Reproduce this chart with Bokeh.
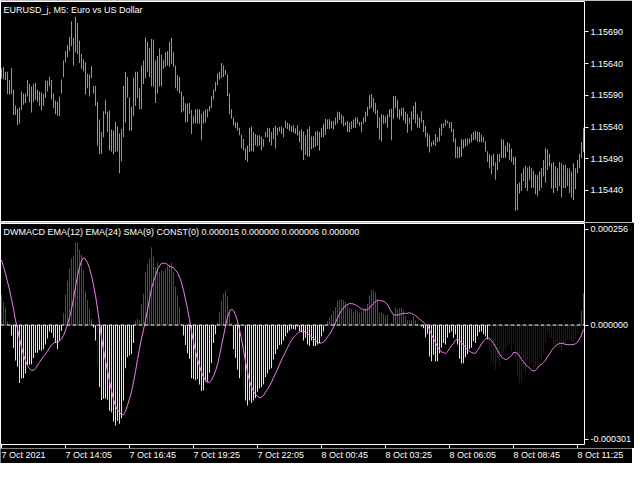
from bokeh.plotting import figure
from bokeh.models import ColumnDataSource, Range1d, FixedTicker, PrintfTickFormatter, Span, Label
from bokeh.layouts import column
from bokeh.embed import file_html
from bokeh.resources import INLINE
from bokeh.core.properties import value

FONT = "Liberation Sans"
FS = "9px"

# ---------------- data ----------------
time_labels = ["7 Oct 2021", "7 Oct 14:05", "7 Oct 16:45", "7 Oct 19:25", "7 Oct 22:05",
               "8 Oct 00:45", "8 Oct 03:25", "8 Oct 06:05", "8 Oct 08:45", "8 Oct 11:25"]
label_bars = [0, 32, 64, 96, 128, 160, 192, 224, 256, 288]
price_ticks = [1.15440, 1.15490, 1.15540, 1.15590, 1.15640, 1.15690]

# EURUSD M5 bar highs / lows, last four digits (price = 1.1 + pts / 100000)
high_pts = [
    5633, 5635, 5627, 5627, 5614, 5633, 5599, 5574, 5569, 5571,
    5596, 5593, 5593, 5614, 5608, 5604, 5608, 5610, 5599, 5596,
    5595, 5592, 5613, 5613, 5619, 5614, 5593, 5582, 5580, 5588,
    5615, 5645, 5660, 5669, 5682, 5707, 5681, 5714, 5704, 5676,
    5655, 5647, 5642, 5624, 5623, 5636, 5605, 5605, 5580, 5552,
    5532, 5565, 5583, 5564, 5566, 5536, 5534, 5548, 5541, 5530,
    5537, 5605, 5627, 5619, 5587, 5572, 5618, 5627, 5627, 5601,
    5637, 5645, 5681, 5675, 5665, 5679, 5678, 5645, 5652, 5664,
    5654, 5646, 5658, 5660, 5675, 5681, 5658, 5637, 5622, 5619,
    5596, 5588, 5577, 5577, 5578, 5567, 5557, 5568, 5568, 5568,
    5561, 5565, 5568, 5568, 5573, 5588, 5599, 5611, 5625, 5627,
    5641, 5637, 5630, 5623, 5593, 5568, 5555, 5548, 5547, 5539,
    5528, 5521, 5506, 5511, 5539, 5541, 5532, 5529, 5527, 5527,
    5525, 5521, 5532, 5539, 5538, 5532, 5539, 5542, 5539, 5540,
    5541, 5538, 5550, 5547, 5545, 5542, 5543, 5538, 5543, 5534,
    5536, 5533, 5527, 5537, 5541, 5525, 5525, 5533, 5534, 5532,
    5539, 5545, 5553, 5552, 5553, 5550, 5550, 5555, 5564, 5564,
    5560, 5557, 5548, 5550, 5547, 5549, 5552, 5555, 5555, 5548,
    5548, 5555, 5564, 5572, 5590, 5592, 5586, 5578, 5567, 5555,
    5560, 5559, 5557, 5560, 5568, 5569, 5589, 5589, 5583, 5568,
    5570, 5571, 5564, 5561, 5555, 5565, 5573, 5580, 5560, 5555,
    5565, 5551, 5542, 5531, 5527, 5516, 5519, 5529, 5524, 5539,
    5545, 5546, 5552, 5550, 5548, 5548, 5537, 5522, 5509, 5509,
    5521, 5520, 5522, 5522, 5522, 5529, 5532, 5534, 5533, 5532,
    5528, 5524, 5517, 5502, 5497, 5495, 5498, 5484, 5497, 5498,
    5521, 5520, 5511, 5516, 5514, 5506, 5493, 5493, 5450, 5453,
    5467, 5475, 5479, 5476, 5478, 5475, 5471, 5465, 5464, 5470,
    5475, 5488, 5507, 5505, 5498, 5483, 5485, 5478, 5475, 5485,
    5483, 5480, 5481, 5475, 5475, 5470, 5483, 5475, 5488, 5498,
    5516, 5539,
]
low_pts = [
    5616, 5615, 5614, 5592, 5591, 5592, 5559, 5559, 5543, 5545,
    5567, 5575, 5578, 5588, 5579, 5563, 5579, 5583, 5580, 5573,
    5566, 5573, 5586, 5596, 5604, 5584, 5570, 5560, 5558, 5557,
    5593, 5619, 5642, 5650, 5660, 5668, 5637, 5658, 5655, 5641,
    5632, 5628, 5591, 5601, 5588, 5617, 5593, 5573, 5511, 5497,
    5498, 5524, 5560, 5532, 5503, 5501, 5497, 5501, 5502, 5467,
    5486, 5524, 5547, 5586, 5534, 5534, 5557, 5573, 5586, 5568,
    5568, 5608, 5617, 5627, 5619, 5604, 5604, 5578, 5593, 5604,
    5604, 5632, 5635, 5637, 5635, 5639, 5635, 5601, 5597, 5593,
    5563, 5565, 5547, 5548, 5561, 5529, 5545, 5546, 5545, 5545,
    5519, 5545, 5547, 5555, 5565, 5570, 5584, 5596, 5606, 5615,
    5617, 5619, 5622, 5589, 5560, 5553, 5542, 5538, 5534, 5527,
    5506, 5503, 5488, 5485, 5501, 5502, 5501, 5511, 5509, 5511,
    5503, 5509, 5524, 5524, 5516, 5511, 5521, 5506, 5527, 5533,
    5529, 5524, 5539, 5537, 5534, 5532, 5531, 5529, 5527, 5516,
    5503, 5488, 5496, 5493, 5493, 5505, 5507, 5509, 5511, 5503,
    5524, 5524, 5528, 5537, 5537, 5538, 5536, 5543, 5546, 5551,
    5545, 5541, 5542, 5532, 5532, 5537, 5539, 5539, 5545, 5542,
    5532, 5545, 5548, 5557, 5568, 5570, 5564, 5560, 5538, 5520,
    5517, 5545, 5546, 5539, 5556, 5519, 5553, 5570, 5555, 5552,
    5557, 5550, 5545, 5531, 5545, 5534, 5552, 5546, 5539, 5538,
    5547, 5532, 5524, 5509, 5500, 5509, 5512, 5510, 5516, 5517,
    5527, 5539, 5542, 5546, 5538, 5532, 5516, 5491, 5491, 5491,
    5493, 5506, 5509, 5511, 5514, 5516, 5519, 5520, 5517, 5516,
    5516, 5516, 5501, 5485, 5475, 5465, 5478, 5457, 5472, 5485,
    5491, 5491, 5491, 5501, 5488, 5485, 5480, 5408, 5409, 5435,
    5439, 5455, 5444, 5439, 5457, 5444, 5444, 5434, 5431, 5439,
    5444, 5462, 5452, 5472, 5478, 5443, 5436, 5444, 5439, 5447,
    5429, 5444, 5444, 5447, 5436, 5429, 5425, 5442, 5467, 5475,
    5491, 5501,
]

# DWMACD histogram and signal, in millionths
macd_u = [
    77, 58, 45, 10, 3, -26, -58, -89, -105, -146,
    -134, -134, -122, -101, -100, -99, -83, -70, -70, -63,
    -65, -61, -49, -34, -16, -20, -32, -45, -61, -39,
    -15, 31, 77, 112, 143, 168, 174, 209, 207, 190,
    178, 138, 85, 63, 40, 15, -6, -39, -101, -156,
    -189, -186, -186, -188, -216, -220, -243, -253, -241, -249,
    -235, -190, -109, -81, -77, -73, -45, 10, 16, 12,
    53, 79, 135, 155, 168, 196, 173, 146, 158, 134,
    138, 136, 144, 150, 152, 158, 134, 97, 75, 45,
    4, -26, -50, -71, -85, -134, -136, -139, -136, -150,
    -166, -164, -142, -142, -120, -96, -45, -23, 6, 32,
    61, 79, 87, 73, 39, 6, -61, -83, -112, -134,
    -130, -162, -190, -203, -190, -196, -190, -184, -168, -160,
    -156, -150, -131, -122, -112, -109, -87, -73, -61, -50,
    -49, -39, -28, -20, -14, -9, -10, -12, -4, -15,
    -18, -39, -32, -49, -53, -39, -53, -53, -49, -45,
    -28, -16, 2, 10, 20, 28, 36, 45, 61, 63,
    65, 63, 58, 50, 43, 41, 34, 39, 36, 31,
    34, 39, 42, 53, 75, 89, 87, 83, 61, 32,
    31, 28, 24, 26, 4, 6, 26, 45, 39, 43,
    43, 36, 23, 12, 12, 12, 23, 12, 4, 2,
    -4, -8, -31, -23, -79, -91, -75, -91, -91, -71,
    -57, -45, -49, -32, -20, -16, -32, -24, -49, -85,
    -97, -96, -81, -73, -61, -57, -41, -45, -28, -18,
    -16, -23, -28, -36, -69, -91, -101, -113, -91, -104,
    -85, -69, -61, -53, -49, -66, -47, -87, -126, -146,
    -144, -113, -120, -91, -97, -96, -112, -105, -104, -81,
    -87, -71, -45, -23, -32, -32, -50, -49, -55, -58,
    -66, -50, -49, -36, -40, -39, -47, -36, -20, 5,
    36, 81,
]
signal_u = [
    164, 147, 130, 109, 89, 65, 41, 12, -9, -34,
    -56, -75, -90, -102, -110, -114, -114, -110, -101, -94,
    -86, -79, -73, -66, -57, -50, -46, -43, -43, -40,
    -35, -26, -13, 1, 19, 41, 66, 96, 123, 146,
    162, 169, 166, 157, 143, 125, 101, 74, 41, 4,
    -32, -62, -90, -115, -141, -165, -187, -204, -214, -220,
    -226, -226, -217, -202, -186, -168, -144, -117, -87, -60,
    -33, -12, 12, 38, 65, 92, 110, 124, 140, 149,
    156, 156, 155, 153, 148, 146, 145, 138, 132, 121,
    107, 88, 65, 41, 14, -16, -42, -66, -86, -103,
    -119, -131, -139, -145, -144, -139, -129, -116, -99, -77,
    -52, -28, -2, 19, 34, 40, 36, 26, 10, -12,
    -35, -63, -92, -119, -141, -156, -167, -175, -179, -183,
    -182, -177, -169, -162, -153, -144, -133, -122, -111, -99,
    -88, -78, -68, -57, -47, -38, -31, -26, -21, -17,
    -14, -16, -17, -21, -26, -29, -34, -39, -43, -46,
    -45, -43, -37, -30, -24, -15, -5, 6, 18, 28,
    37, 43, 49, 52, 54, 54, 53, 51, 48, 44,
    41, 39, 38, 39, 43, 49, 54, 59, 63, 62,
    61, 60, 57, 51, 42, 33, 26, 25, 25, 27,
    28, 30, 29, 30, 31, 29, 27, 24, 20, 15,
    11, 7, 2, -1, -12, -24, -34, -44, -55, -62,
    -68, -69, -72, -67, -59, -52, -46, -38, -36, -39,
    -45, -50, -56, -61, -66, -69, -71, -71, -64, -56,
    -47, -40, -35, -32, -34, -39, -46, -55, -63, -73,
    -80, -84, -87, -85, -81, -77, -69, -69, -71, -78,
    -87, -92, -100, -104, -108, -113, -116, -114, -109, -102,
    -99, -94, -89, -80, -73, -64, -58, -52, -49, -46,
    -46, -46, -49, -49, -50, -49, -49, -47, -43, -35,
    -25, -11,
]
# histogram colour state per bar, as (state, number of bars) runs
state_runs = [("G", 5), ("Y", 26), ("G", 4), ("R", 11), ("Y", 2), ("B", 1), ("Y", 18),
              ("G", 24), ("Y", 17), ("G", 8), ("Y", 4), ("B", 2), ("Y", 40), ("G", 48),
              ("Y", 34), ("B", 45), ("G", 3)]
state_colors = {"G": "#008000", "R": "#FF0000", "Y": "#FFFF00", "B": "#0000FF"}

title_top = "EURUSD_j, M5:  Euro vs US Dollar"
title_bottom = "DWMACD EMA(12) EMA(24) SMA(9) CONST(0)  0.000015 0.000000 0.000006 0.000000"
macd_max = 256e-6
macd_min = -301e-6
macd_scale_labels = ["0.000256", "0.000000", "-0.000301"]

# ---------------- build ----------------
n = len(high_pts)
idx = list(range(n))
states = [s for s, k in state_runs for _ in range(k)]

price_src = ColumnDataSource(dict(
    x=idx,
    hi=[1.1 + v / 1e5 for v in high_pts],
    lo=[1.1 + v / 1e5 for v in low_pts],
))
macd_src = ColumnDataSource(dict(
    x=idx,
    zero=[0.0] * n,
    m=[v * 1e-6 for v in macd_u],
    sig=[v * 1e-6 for v in signal_u],
    color=[state_colors[s] for s in states],
))

BAR_PX = 2
FRAME_W = BAR_PX * n
RIGHT_W = 48
X0 = -0.5
xr = Range1d(X0, X0 + n)

common = dict(output_backend="svg", toolbar_location=None, tools="",
              background_fill_color="black", border_fill_color="black",
              outline_line_color="white", outline_line_alpha=1.0, outline_line_width=1,
              frame_width=FRAME_W, min_border_left=0, min_border_right=RIGHT_W, x_range=xr)

p1 = figure(frame_height=220, y_range=Range1d(1.15391, 1.15738),
            x_axis_location=None, y_axis_location="right",
            min_border_top=1, min_border_bottom=1, **common)
p1.grid.visible = False
p1.vbar(x="x", width=0.5, top="hi", bottom="lo", source=price_src,
        fill_color="#00FF00", line_color=None)

p2 = figure(frame_height=221, y_range=Range1d(macd_min, macd_max),
            x_axis_location="below", y_axis_location="right",
            min_border_top=1, min_border_bottom=4, **common)
p2.grid.visible = False
p2.vbar(x="x", width=0.5, top="m", bottom="zero", source=macd_src,
        fill_color="color", line_color=None)
p2.line(x="x", y="sig", source=macd_src, line_color="#EE82EE", line_width=1)
p2.add_layout(Span(location=0, dimension="width", line_color="white", line_dash="4 2", line_width=1))

for ax in (p1.yaxis[0], p2.yaxis[0], p2.xaxis[0]):
    ax.axis_line_color = None
    ax.major_tick_line_color = "white"
    ax.major_tick_in = 0
    ax.major_tick_out = 4
    ax.minor_tick_line_color = None
    ax.major_label_text_color = "white"
    ax.major_label_text_font = FONT
    ax.major_label_text_font_size = FS
    ax.major_label_standoff = 2

p1.yaxis.ticker = FixedTicker(ticks=price_ticks)
p1.yaxis.formatter = PrintfTickFormatter(format="%.5f")

# MACD scale: max / zero / min labels, the outer two drawn just inside the window
pad = (macd_max - macd_min) * 5.5 / 221
macd_label_pos = [macd_max - pad, 0.0, macd_min + pad]
p2.yaxis.ticker = FixedTicker(ticks=macd_label_pos)
p2.yaxis.major_label_overrides = {v: t for v, t in zip(macd_label_pos, macd_scale_labels)}

# time axis: tick marks on the MACD window, labels drawn in a strip below
p2.xaxis.ticker = FixedTicker(ticks=label_bars)
p2.xaxis.major_label_overrides = {b: "" for b in label_bars}
p2.xaxis.major_label_text_font_size = "0px"
p2.xaxis.major_label_standoff = 0


def lab(fig, x, y, text, xo, yo):
    fig.add_layout(Label(x=x, y=y, text=text, x_offset=xo, y_offset=yo,
                         text_baseline="top", text_align="left",
                         text_color="white", text_font=FONT, text_font_size=FS))


lab(p1, xr.start, 1.15738, title_top, 3, -3)
lab(p2, xr.start, macd_max, title_bottom, 3, -3)

p3 = figure(frame_width=FRAME_W + RIGHT_W, frame_height=15,
            x_range=Range1d(X0, X0 + (FRAME_W + RIGHT_W) / BAR_PX), y_range=Range1d(0, 1),
            x_axis_location=None, y_axis_location=None, output_backend="svg",
            toolbar_location=None, tools="", background_fill_color="black",
            border_fill_color="black", outline_line_color=None,
            min_border_left=0, min_border_right=0, min_border_top=0, min_border_bottom=0)
p3.grid.visible = False
p3.text(x=label_bars, y=[0.88] * len(label_bars), text=time_labels,
        text_font=value(FONT), text_font_size=value(FS), text_color="white",
        text_baseline="top", text_align="left")

layout = column(p1, p2, p3, spacing=0)

open("out.html", "w").write(file_html(layout, INLINE))
